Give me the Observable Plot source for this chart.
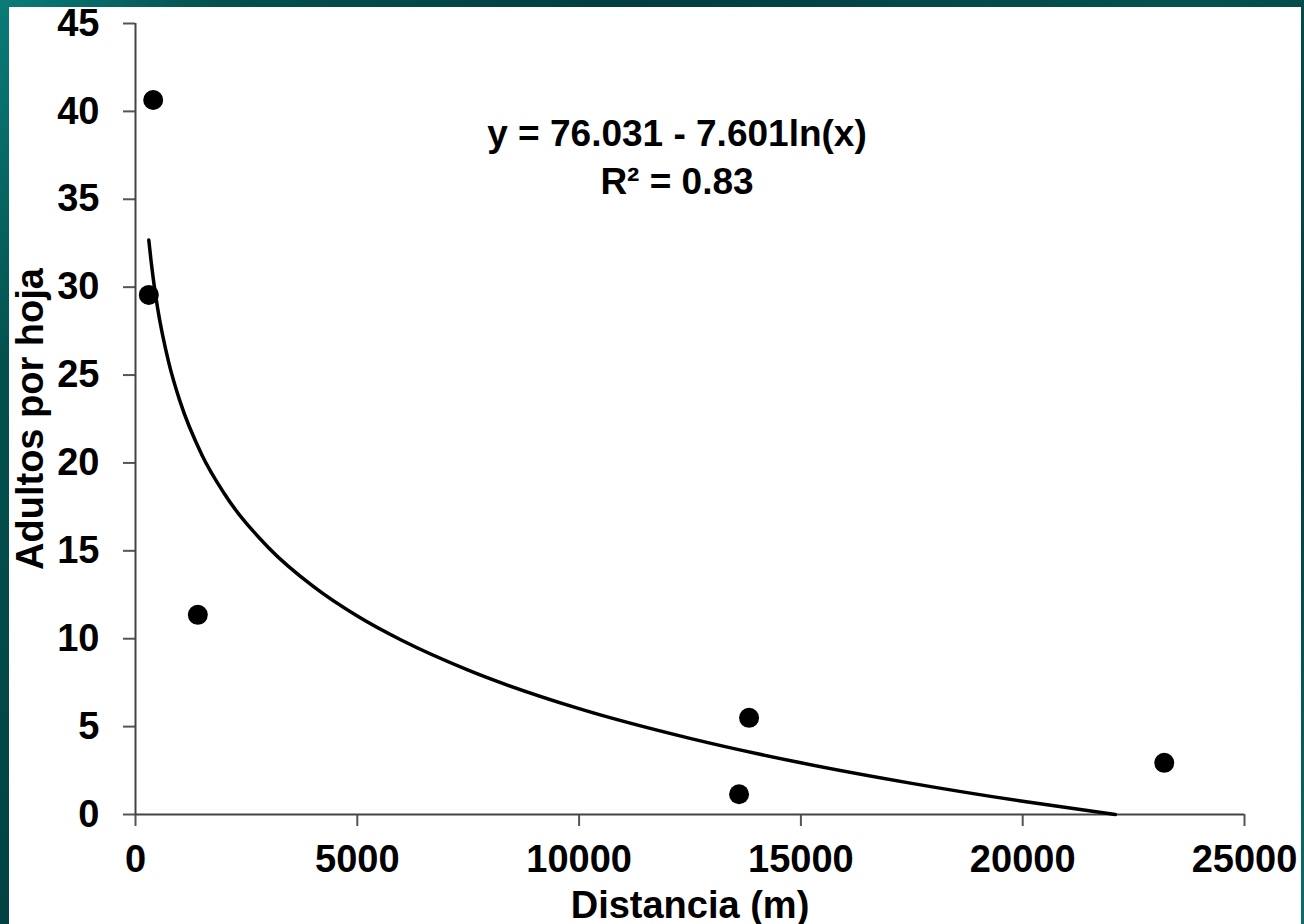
<!DOCTYPE html>
<html><head><meta charset="utf-8">
<script src="https://cdn.jsdelivr.net/npm/d3@7"></script>
<script src="https://cdn.jsdelivr.net/npm/@observablehq/plot@0.6"></script>
<style>
html,body{margin:0;padding:0;}
body{width:1304px;height:924px;overflow:hidden;position:relative;
  background:linear-gradient(120deg,#0a7c78 0%,#03504e 12%,#023e3e 35%,#04524f 65%,#023f3f 85%,#0a6f6b 100%);}
#chart{position:absolute;left:9px;top:7px;width:1292px;height:917px;background:#fff;}
</style></head><body><div id="chart"></div>
<script>
// Observed points
const distance = [300, 399, 1405, 13832, 13606, 23191];
const adults = [29.56, 40.65, 11.36, 5.50, 1.15, 2.94];
// Trend line
const trendDistance = [300, 350, 400, 500, 750, 1000, 1500, 2000, 3000, 4000, 5000, 6000, 7500, 10000, 12500, 15000, 17500, 20000, 22088];
const trendAdults = [32.68, 31.51, 30.49, 28.79, 25.71, 23.53, 20.44, 18.26, 15.18, 12.99, 11.29, 9.91, 8.21, 6.02, 4.33, 2.94, 1.77, 0.75, 0.00];
// Ticks and texts
const xTicks = [0, 5000, 10000, 15000, 20000, 25000];
const yTicks = [0, 5, 10, 15, 20, 25, 30, 35, 40, 45];
const equationLines = ["y = 76.031 - 7.601ln(x)", "R² = 0.83"];
const xTitle = "Distancia (m)";
const yTitle = "Adultos por hoja";

const points = distance.map((d, i) => ({distance: d, adults: adults[i]}));
const trend = trendDistance.map((d, i) => ({distance: d, adults: trendAdults[i]}));

const font = "'Liberation Sans', Arial, sans-serif";
const plot = Plot.plot({
  width: 1292, height: 917,
  marginLeft: 126, marginRight: 57, marginTop: 16, marginBottom: 110,
  style: {fontFamily: font, fontWeight: "bold", fontSize: "38px", color: "#000", background: "#fff", overflow: "visible"},
  x: {domain: [0, 25000]},
  y: {domain: [0, 45]},
  marks: [
    Plot.axisX({ticks: xTicks, tickFormat: d => String(d), tickSize: 12, tickPadding: 19, label: null,
      stroke: "#555", fill: "#000", strokeWidth: 2, fontSize: 38, fontWeight: "bold"}),
    Plot.axisY({ticks: yTicks, tickFormat: d => String(d), tickSize: 12, tickPadding: 24, label: null,
      stroke: "#555", fill: "#000", strokeWidth: 2, fontSize: 38, fontWeight: "bold"}),
    Plot.ruleY([0], {stroke: "#444", strokeWidth: 2}),
    Plot.ruleX([0], {stroke: "#444", strokeWidth: 2}),
    Plot.line(trend, {x: "distance", y: "adults", curve: "monotone-x", stroke: "#000", strokeWidth: 3.5}),
    Plot.dot(points, {x: "distance", y: "adults", r: 10, fill: "#000", stroke: null}),
    Plot.text([equationLines.join("\n")], {frameAnchor: "top", dx: -13, dy: 88, lineAnchor: "top", lineHeight: 1.3,
      textAnchor: "middle", fontSize: 37, fontWeight: "bold", fill: "#000"}),
    Plot.text([xTitle], {frameAnchor: "bottom", dy: 77, lineAnchor: "top", textAnchor: "middle",
      fontSize: 38, fontWeight: "bold", fill: "#000"}),
    Plot.text([yTitle], {frameAnchor: "left", dx: -105, rotate: -90, lineAnchor: "middle", textAnchor: "middle",
      fontSize: 38, fontWeight: "bold", fill: "#000"})
  ]
});
document.getElementById("chart").appendChild(plot);
</script>
</body></html>
